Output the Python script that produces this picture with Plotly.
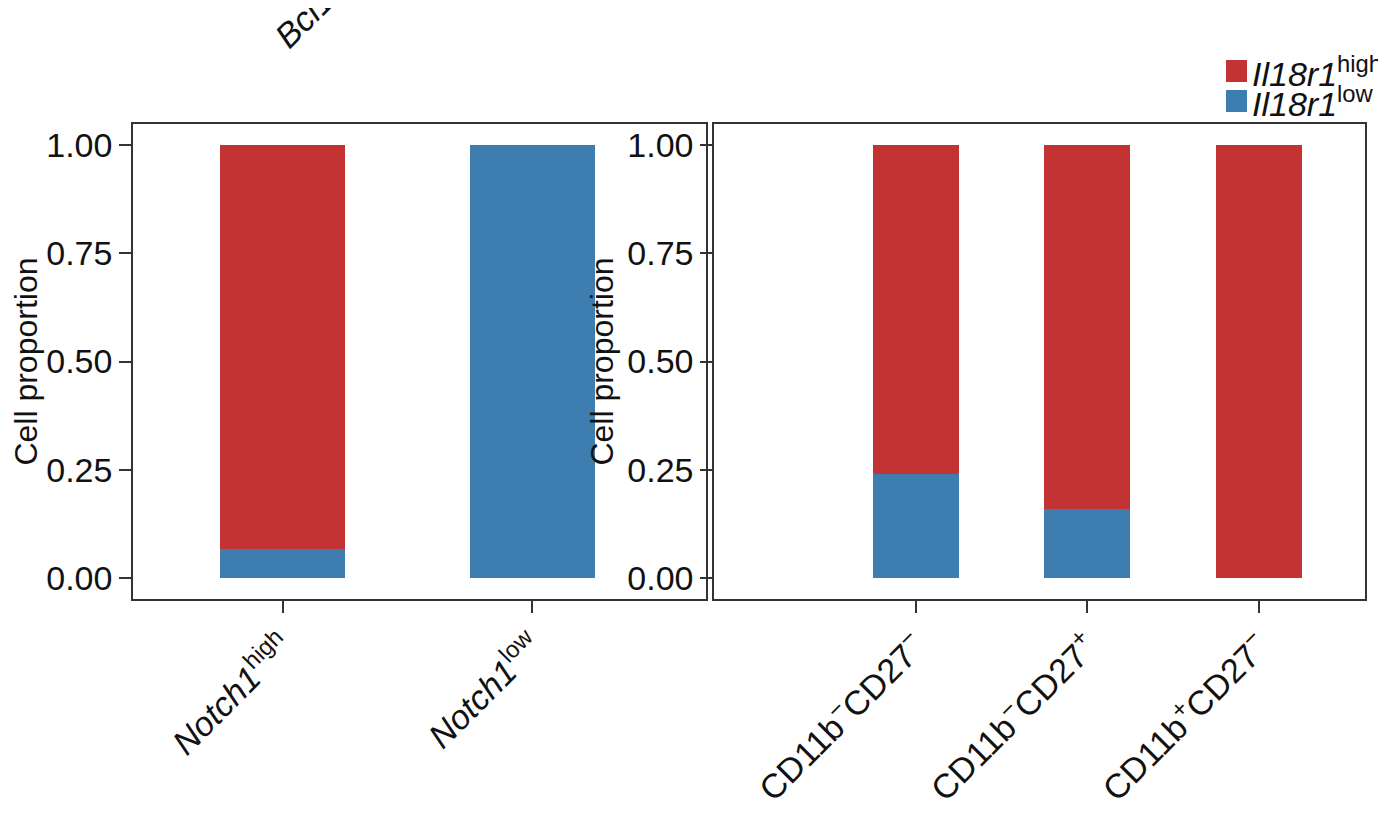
import plotly.graph_objects as go

cats1 = ["<i>Notch1</i><sup>high</sup>", "<i>Notch1</i><sup>low</sup>"]
low1 = [0.067, 1.0]
high1 = [0.933, 0.0]
cats2 = ["CD11b<sup>−</sup>CD27<sup>−</sup>", "CD11b<sup>−</sup>CD27<sup>+</sup>", "CD11b<sup>+</sup>CD27<sup>−</sup>"]
low2 = [0.24, 0.16, 0.0]
high2 = [0.76, 0.84, 1.0]
yticks = [0, 0.25, 0.5, 0.75, 1.0]
ylabels = ["0.00", "0.25", "0.50", "0.75", "1.00"]
legend_names = ["<i>Il18r1</i><sup>high</sup>", "<i>Il18r1</i><sup>low</sup>"]

RED = "#C43333"; BLUE = "#3D7DB0"
fig = go.Figure()
fig.add_bar(x=cats1, y=low1, marker_color=BLUE, marker_line_width=0, width=0.5, showlegend=False, xaxis="x", yaxis="y")
fig.add_bar(x=cats1, y=high1, marker_color=RED, marker_line_width=0, width=0.5, showlegend=False, xaxis="x", yaxis="y")
fig.add_bar(x=cats2, y=low2, marker_color=BLUE, marker_line_width=0, width=0.5, showlegend=False, xaxis="x2", yaxis="y2")
fig.add_bar(x=cats2, y=high2, marker_color=RED, marker_line_width=0, width=0.5, showlegend=False, xaxis="x2", yaxis="y2")

ax = dict(showline=True, mirror=True, linecolor="#333", linewidth=1.5, ticks="outside",
          ticklen=12, tickwidth=2, tickcolor="#333", showgrid=False, zeroline=False,
          tickfont=dict(size=34, color="#111"))
yax = dict(ax, range=[-0.048, 1.048], tickvals=yticks, ticktext=ylabels,
           title=dict(text="Cell proportion", font=dict(size=32, color="#111"), standoff=4))
shapes = []
annots = []
for i, (nm, col) in enumerate(zip(legend_names, [RED, BLUE])):
    y0 = 52 + i * 30
    shapes.append(dict(type="rect", xref="paper", yref="paper", x0=1218/1386, x1=1239/1386,
                       y0=1-(y0+22)/828, y1=1-y0/828, fillcolor=col, line_width=0))
    annots.append(dict(text=nm, xref="paper", yref="paper", x=1242/1386, y=1-(y0+11)/828,
                       xanchor="left", yanchor="middle", showarrow=False, font=dict(size=34)))
annots.append(dict(text="<i>Bcl11b</i>", x=0.185, y=1.0, xref="paper", yref="paper",
                   xanchor="left", yanchor="bottom", showarrow=False, textangle=-45,
                   font=dict(size=34), yshift=-50))
fig.update_layout(
    barmode="stack", width=1386, height=828, margin=dict(l=0, r=0, t=0, b=0),
    plot_bgcolor="white", paper_bgcolor="white",
    font=dict(family="Liberation Sans, Arial", color="#111"),
    xaxis=dict(ax, domain=[0.0902, 0.5035], range=[-0.6, 1.696], tickangle=-45),
    yaxis=dict(yax, domain=[0.286, 0.860]),
    xaxis2=dict(ax, domain=[0.5094, 0.979], range=[-1.174, 2.616], tickangle=-45),
    yaxis2=dict(yax, domain=[0.286, 0.860], anchor="x2"),
    shapes=shapes, annotations=annots, showlegend=False,
)
fig.write_html("out.html")
